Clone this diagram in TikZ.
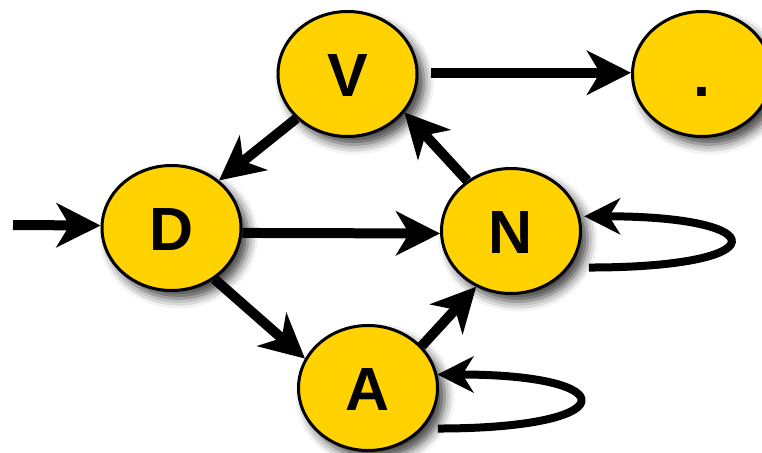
\documentclass[tikz,border=0pt]{standalone}
\usepackage{fontspec}
\setmainfont{Liberation Sans}
\usetikzlibrary{shapes.geometric,arrows.meta,shadows.blur,calc}
\definecolor{gold}{RGB}{255,210,0}
\begin{document}
\begin{tikzpicture}[x=1pt,y=-1pt,
  state/.style={ellipse, draw=black, line width=3pt, fill=gold,
    minimum width=139pt, minimum height=125pt, inner sep=0pt,
    text height=44pt, text depth=0pt,
    font=\fontsize{61}{61}\selectfont\bfseries,
    blur shadow={shadow xshift=7pt, shadow yshift=-8pt, shadow blur radius=10pt, shadow opacity=75}},
  conn/.style={line width=10pt, -{Stealth[length=44pt,width=44pt,inset=13pt]}},
  loopedge/.style={line width=8pt, -{Stealth[length=36pt,width=36pt,inset=11pt]}}]
\useasboundingbox (0,0) rectangle (762,452);
\node[state] (V) at (347.5,74) {V};
\node[state] (P) at (702,74) {.};
\node[state] (D) at (171.5,228) {D};
\node[state] (N) at (511,231) {N};
\node[state] (A) at (368,388) {A};
\coordinate (S) at (13,225);
\draw[conn] (S) -- (D.178);
\draw[conn] (V.221) -- (D.45);
\draw[conn, shorten <=13pt] (V.1) -- (P.179);
\draw[conn] (D.-4) -- (N.182);
\draw[conn] (N.131) -- (V.-34);
\draw[conn] (D.-50) -- (A.155);
\draw[conn] (A.38) -- (N.238);
\draw[loopedge] ([shift={(18pt,-2pt)}]N.-30) .. controls +(190,0) and +(190,0) .. ([xshift=4pt]N.12);
\draw[loopedge] ([shift={(10pt,-6pt)}]A.-30) .. controls +(188,0) and +(188,0) .. (A.11);
\end{tikzpicture}
\end{document}
